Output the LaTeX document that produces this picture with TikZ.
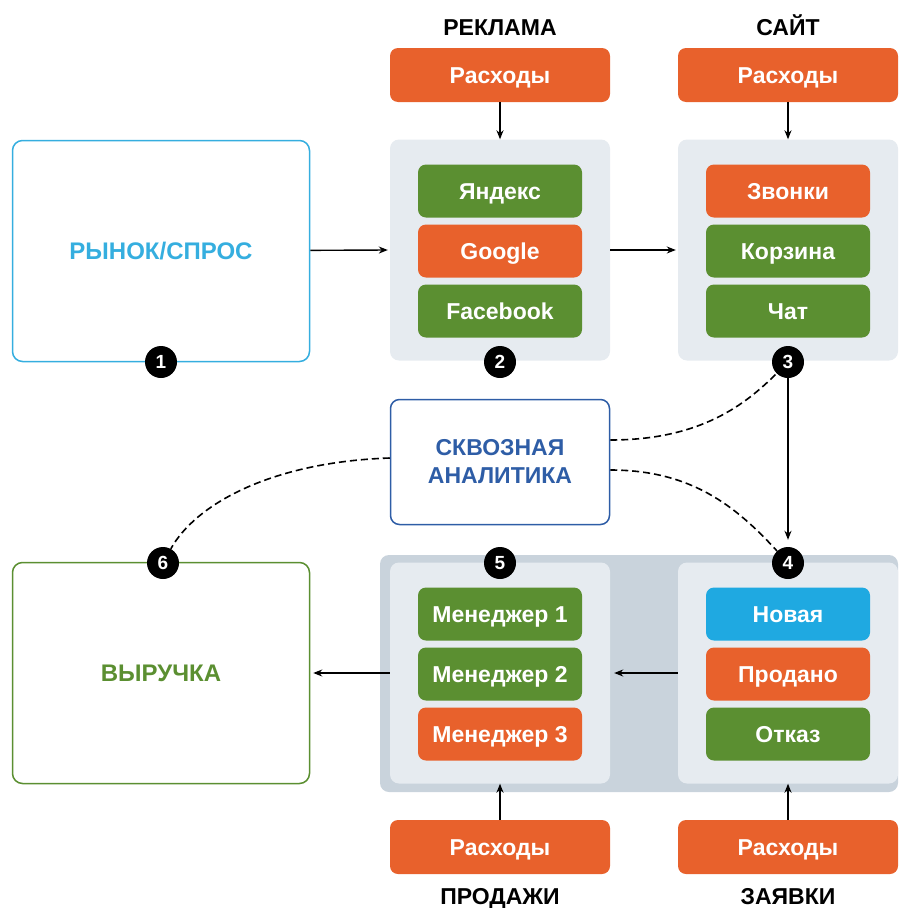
\documentclass[tikz,border=0pt]{standalone}
\usepackage{fontspec}
\setmainfont{Liberation Sans}
\usetikzlibrary{arrows.meta,positioning,calc}
\definecolor{naranja}{HTML}{E8612C}
\definecolor{verde}{HTML}{5B8F31}
\definecolor{celeste}{HTML}{1FA9E1}
\definecolor{cian}{HTML}{35AEDF}
\definecolor{azul}{HTML}{2E5DA6}
\definecolor{panel}{HTML}{E6EBF0}
\definecolor{banda}{HTML}{C9D3DC}
\tikzset{
  caja/.style={rounded corners=8pt, minimum width=164pt, minimum height=53pt, inner sep=0pt,
    text height=16.5pt, text depth=0pt, text=white, font=\bfseries\fontsize{23}{26}\selectfont},
  gasto/.style={caja, fill=naranja, minimum width=220pt, minimum height=54pt},
  panelgris/.style={fill=panel, rounded corners=9pt, minimum width=220pt, minimum height=221pt, inner sep=0pt},
  grande/.style={draw, line width=1.5pt, rounded corners=10pt, minimum width=297pt, minimum height=221pt,
    inner sep=0pt, align=center, font=\bfseries\fontsize{24}{28}\selectfont},
  titulo/.style={text height=16.5pt, text depth=0pt, font=\bfseries\fontsize{23}{26}\selectfont},
  num/.style={circle, fill=black, text=white, minimum size=32pt, inner sep=0pt,
    font=\bfseries\fontsize{19}{21}\selectfont},
  flecha/.style={arrows=->, line width=1.4pt},
  punteada/.style={line width=1.6pt, dash pattern=on 7pt off 4pt}
}
\begin{document}
\begin{tikzpicture}[x=1pt,y=-1pt,>={Stealth[length=9pt,width=7pt]}]
  \useasboundingbox (0,0) rectangle (898,908);

  % zona de abajo
  \fill[banda, rounded corners=9pt] (380,555) rectangle (898,792);

  % columnas
  \node[panelgris] (pRek) at (500,250) {};
  \node[panelgris] (pSait) at (788,250) {};
  \node[panelgris] (pProd) at (500,673) {};
  \node[panelgris] (pZaj) at (788,673) {};

  \node[titulo] (tRek) at (500,27) {РЕКЛАМА};
  \node[titulo] (tSait) at (788,27) {САЙТ};
  \node[titulo] (tProd) at (500,896) {ПРОДАЖИ};
  \node[titulo] (tZaj) at (788,896) {ЗАЯВКИ};

  \node[gasto] (gRek) at (500,75) {Расходы};
  \node[gasto] (gSait) at (788,75) {Расходы};
  \node[gasto] (gProd) at (500,847) {Расходы};
  \node[gasto] (gZaj) at (788,847) {Расходы};

  \node[caja, fill=verde] (yandex) at (500,191) {Яндекс};
  \node[caja, fill=naranja] (google) at (500,251) {Google};
  \node[caja, fill=verde] (facebook) at (500,311) {Facebook};

  \node[caja, fill=naranja] (zvonki) at (788,191) {Звонки};
  \node[caja, fill=verde] (korzina) at (788,251) {Корзина};
  \node[caja, fill=verde] (chat) at (788,311) {Чат};

  \node[caja, fill=verde] (men1) at (500,614) {Менеджер 1};
  \node[caja, fill=verde] (men2) at (500,674) {Менеджер 2};
  \node[caja, fill=naranja] (men3) at (500,734) {Менеджер 3};

  \node[caja, fill=celeste] (novaya) at (788,614) {Новая};
  \node[caja, fill=naranja] (prodano) at (788,674) {Продано};
  \node[caja, fill=verde] (otkaz) at (788,734) {Отказ};

  % cajas grandes
  \node[grande, draw=cian, text=cian] (rynok) at (161,251) {РЫНОК/СПРОС};
  \node[grande, draw=verde, text=verde] (vyruchka) at (161,673) {ВЫРУЧКА};
  \node[grande, draw=azul, text=azul, minimum width=219pt, minimum height=125pt,
    rounded corners=9pt, font=\bfseries\fontsize{23}{28}\selectfont] (analitika) at (500,462) {СКВОЗНАЯ\\АНАЛИТИКА};

  % numeros
  \node[num] (n1) at (161,362) {1};
  \node[num] (n2) at (500,362) {2};
  \node[num] (n3) at (788,362) {3};
  \node[num] (n4) at (788,563) {4};
  \node[num] (n5) at (500,563) {5};
  \node[num] (n6) at (163,563) {6};

  % flechas
  \draw[flecha] (gRek) -- (pRek);
  \draw[flecha] (gSait) -- (pSait);
  \draw[flecha] (gProd) -- (pProd);
  \draw[flecha] (gZaj) -- (pZaj);
  \draw[flecha] (rynok) -- ([xshift=-2pt]pRek.west);
  \draw[flecha] (pRek) -- ([xshift=-2pt]pSait.west);
  \draw[flecha] (n3) -- ([yshift=7pt]n4.north);
  \draw[flecha] (pZaj) -- ([xshift=4pt]pProd.east);
  \draw[flecha] (pProd) -- ([xshift=3pt]vyruchka.east);

  \draw[punteada] ([yshift=22pt]analitika.east) .. controls (700,440) and (745,405) .. (n3);
  \draw[punteada] ([yshift=-8pt]analitika.east) .. controls (690,470) and (735,505) .. (n4);
  \draw[punteada] ([yshift=4pt]analitika.west) .. controls (270,462) and (195,505) .. (n6);
\end{tikzpicture}
\end{document}
